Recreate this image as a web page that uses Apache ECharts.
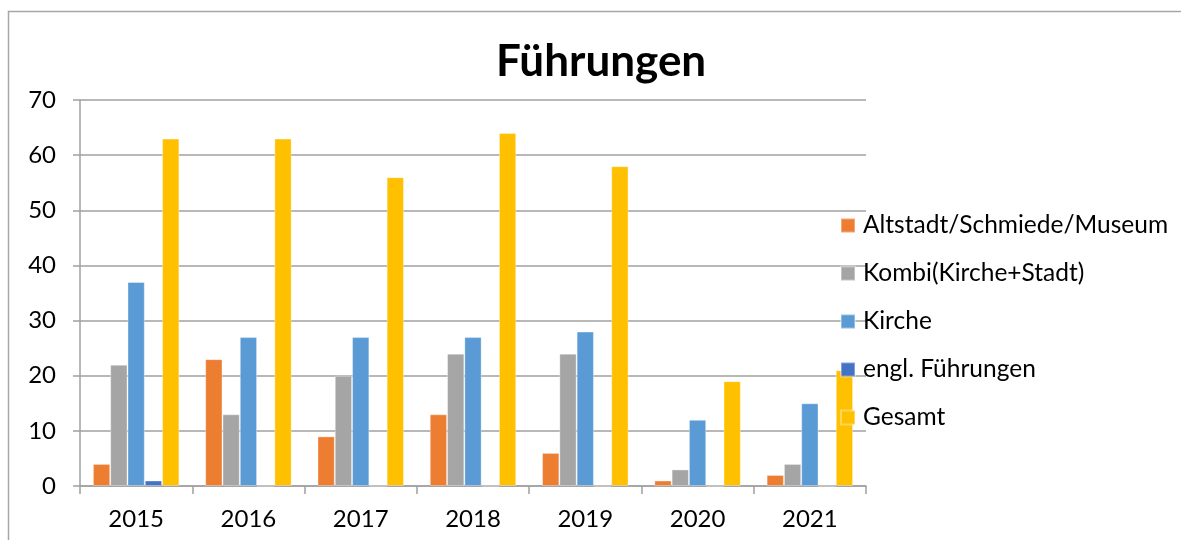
<!DOCTYPE html>
<html>
<head>
<meta charset="utf-8">
<script src="https://cdn.jsdelivr.net/npm/echarts@6/dist/echarts.min.js"></script>
<style>
  html, body { margin: 0; padding: 0; background: #ffffff; }
  #chart { width: 1181px; height: 540px; }
</style>
</head>
<body>
<div id="chart"></div>
<script>
// Jahre und Anzahl der Führungen je Kategorie
const years = ['2015', '2016', '2017', '2018', '2019', '2020', '2021'];
const altstadt = [4, 23, 9, 13, 6, 1, 2];
const kombi = [22, 13, 20, 24, 24, 3, 4];
const kirche = [37, 27, 27, 27, 28, 12, 15];
const englisch = [1, 0, 0, 0, 0, 0, 0];
const gesamt = [63, 63, 56, 64, 58, 19, 21];
const yTicks = [0, 10, 20, 30, 40, 50, 60, 70];

const seriesDefs = [
  { name: 'Altstadt/Schmiede/Museum', data: altstadt, color: '#ED7D31' },
  { name: 'Kombi(Kirche+Stadt)', data: kombi, color: '#A5A5A5' },
  { name: 'Kirche', data: kirche, color: '#5B9BD5' },
  { name: 'engl. Führungen', data: englisch, color: '#4472C4' },
  { name: 'Gesamt', data: gesamt, color: '#FFC000' }
];

const FONT = 'Lato, "Open Sans", sans-serif';
const chart = echarts.init(document.getElementById('chart'), null, { renderer: 'canvas' });

chart.setOption({
  animation: false,
  backgroundColor: '#ffffff',
  title: {
    text: 'Führungen',
    left: 491,
    top: 35,
    textStyle: { fontFamily: FONT, fontSize: 44, fontWeight: 'bold', color: '#000000' }
  },
  graphic: [{
    type: 'rect',
    shape: { x: 8.5, y: 11.5, width: 1400, height: 700 },
    style: { fill: 'none', stroke: '#a6a6a6', lineWidth: 1.5 },
    silent: true,
    z: 0
  }],
  legend: {
    orient: 'vertical',
    left: 840,
    top: 213,
    padding: 0,
    itemWidth: 14,
    itemHeight: 14,
    itemGap: 23,
    icon: 'rect',
    textStyle: { fontFamily: FONT, fontSize: 24.5, color: '#000000', lineHeight: 25, padding: [0, 0, 0, 3] },
    data: seriesDefs.map(s => s.name)
  },
  grid: { left: 80, right: 315, top: 100, bottom: 54, containLabel: false },
  xAxis: {
    type: 'category',
    data: years,
    axisLine: { lineStyle: { color: '#a0a0a0', width: 1.5 } },
    axisTick: { show: true, length: 8, alignWithLabel: false, lineStyle: { color: '#a0a0a0', width: 1.5 } },
    axisLabel: { fontFamily: FONT, fontSize: 24, color: '#000000', margin: 21 },
    splitLine: { show: false }
  },
  yAxis: {
    type: 'value',
    min: yTicks[0],
    max: yTicks[yTicks.length - 1],
    interval: 10,
    axisLine: { show: true, lineStyle: { color: '#a0a0a0', width: 1.5 } },
    axisTick: { show: true, length: 7, lineStyle: { color: '#a0a0a0', width: 1.5 } },
    axisLabel: { fontFamily: FONT, fontSize: 24, color: '#000000', margin: 24 },
    splitLine: { show: true, lineStyle: { color: '#a0a0a0', width: 1.5 } }
  },
  series: seriesDefs.map(s => ({
    name: s.name,
    type: 'bar',
    data: s.data,
    barGap: '0%',
    barCategoryGap: '23%',
    itemStyle: { color: s.color, borderColor: 'rgba(255,255,255,0.35)', borderWidth: 1 },
    emphasis: { disabled: true }
  }))
});
</script>
</body>
</html>
